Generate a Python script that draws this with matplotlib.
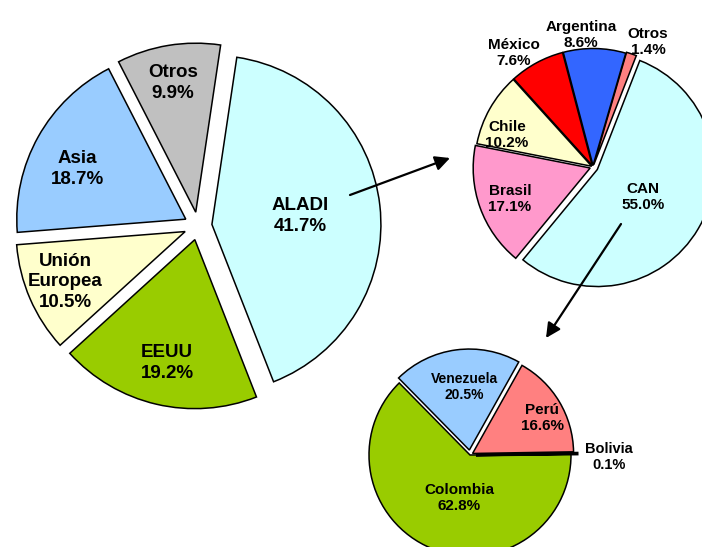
import matplotlib
matplotlib.use('Agg')
import matplotlib.pyplot as plt

plt.rcParams['font.family'] = ['Liberation Sans', 'DejaVu Sans']

W, H = 702, 547

# destino de las exportaciones
dest_labels = ['ALADI', 'Otros', 'Asia', 'Unión\nEuropea', 'EEUU']
dest_share = [41.7, 9.9, 18.7, 10.5, 19.2]
dest_colors = ['#CCFFFF', '#C0C0C0', '#99CCFF', '#FFFFCC', '#99CC00']

# dentro de ALADI
aladi_labels = ['CAN', 'Otros', 'Argentina', 'México', 'Chile', 'Brasil']
aladi_share = [55.0, 1.4, 8.6, 7.6, 10.2, 17.1]
aladi_colors = ['#CCFFFF', '#FF8080', '#3366FF', '#FF0000', '#FFFFCC', '#FF99CC']

# dentro de la CAN
can_labels = ['Colombia', 'Bolivia', 'Perú', 'Venezuela']
can_share = [62.8, 0.1, 16.6, 20.5]
can_colors = ['#99CC00', '#000000', '#FF8080', '#99CCFF']


def py(y):
    # pixel row -> data y
    return H - y


fig = plt.figure(figsize=(W / 100, H / 100), dpi=100)
ax = fig.add_axes([0, 0, 1, 1])

wp = dict(edgecolor='black', linewidth=1.1)

# big pie (explode is in data units = pixels here)
ax.pie(dest_share, colors=dest_colors, startangle=-68.6, center=(198, py(226)),
       radius=169, explode=[14] * 5, wedgeprops=wp, frame=True)

# ALADI pie
ax.pie(aladi_share, colors=aladi_colors, startangle=-129.5, center=(593, py(167)),
       radius=117, explode=[5, 2.5, 1.5, 1.5, 1.5, 3], wedgeprops=wp, frame=True)

# CAN pie
can_wedges, _ = ax.pie(can_share, colors=can_colors, startangle=134.5, center=(470, py(455)),
                       radius=101, explode=[0, 6, 3, 5], wedgeprops=wp, frame=True)
can_wedges[1].set_linewidth(2.2)  # Bolivia is only a sliver

ax.set_xlim(0, W)
ax.set_ylim(0, H)
ax.set_aspect('equal')
ax.axis('off')

# labels
big = dict(ha='center', va='center', fontsize=13.5, fontweight='bold', linespacing=1.3)
mid = dict(ha='center', va='center', fontsize=11, fontweight='bold', linespacing=1.2)

dest_pos = [(300, 216), (173, 83), (77, 169), (65, 282), (167, 363)]
for lab, v, (x, y) in zip(dest_labels, dest_share, dest_pos):
    ax.text(x, py(y), f'{lab}\n{v:.1f}%', **big)

aladi_pos = [(643, 197), (648, 42), (581, 35), (514, 53), (507, 135), (510, 199)]
for lab, v, (x, y) in zip(aladi_labels, aladi_share, aladi_pos):
    ax.text(x, py(y), f'{lab}\n{v:.1f}%', **mid)

can_pos = [(459, 498), (609, 457), (542, 418), (464, 387)]
can_size = [11, 10.5, 11, 10]
for lab, v, (x, y), fs in zip(can_labels, can_share, can_pos, can_size):
    ax.text(x, py(y), f'{lab}\n{v:.1f}%', ha='center', va='center', fontsize=fs,
            fontweight='bold', linespacing=1.2)

# arrows
arrow = dict(arrowstyle='-|>', color='black', lw=1.6, mutation_scale=22, shrinkA=0, shrinkB=0)
ax.annotate('', xy=(450, py(158)), xytext=(350, py(195)), arrowprops=arrow)
ax.annotate('', xy=(546, py(338)), xytext=(621, py(224)), arrowprops=arrow)

fig.savefig('out.png', dpi=100)
